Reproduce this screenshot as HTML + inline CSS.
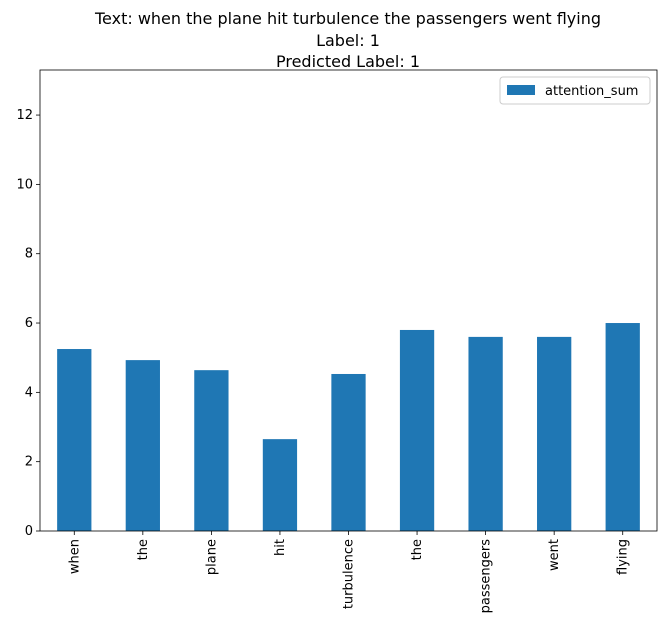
<!DOCTYPE html>
<html><head><meta charset="utf-8"><style>
body{margin:0;background:#fff;font-family:"Liberation Sans","DejaVu Sans",sans-serif;}
svg text{font-family:"DejaVu Sans","Liberation Sans",sans-serif;}
</style></head><body>
<svg id="chart" width="667" height="630" xmlns="http://www.w3.org/2000/svg">
<g font-size="16" text-anchor="middle" fill="#000">
<text x="348" y="24">Text: when the plane hit turbulence the passengers went flying</text>
<text x="348" y="46">Label: 1</text>
<text x="348" y="67">Predicted Label: 1</text>
</g>
<g id="plot"></g>
</svg>
<script>
const categories=["when","the","plane","hit","turbulence","the","passengers","went","flying"];
const values=[5.25,4.93,4.64,2.65,4.53,5.8,5.6,5.6,6.0];
const yTicks=[0,2,4,6,8,10,12];
const L=40,R=657,T=70,B=531,yMax=13.3;
const ns="http://www.w3.org/2000/svg";
const g=document.getElementById('plot');
const y=v=>B-(B-T)*v/yMax;
const step=(R-L)/categories.length;
const x=i=>L+step*(i+0.5);
function mk(tag,attrs){const e=document.createElementNS(ns,tag);for(const k in attrs)e.setAttribute(k,attrs[k]);g.appendChild(e);return e;}
values.forEach((v,i)=>{
 const r=mk('rect',{x:x(i)-step/4,y:y(v),width:step/2,height:B-y(v),fill:'#1f77b4'});
 
 
});
const frame=mk('rect',{x:L,y:T,width:R-L,height:B-T,fill:'none',stroke:'#000','stroke-width':0.8});


yTicks.forEach(t=>{
 const ln=mk('line',{x1:L-4,x2:L,y1:y(t),y2:y(t),stroke:'#000','stroke-width':0.8});
 
 
 const tx=mk('text',{x:L-7,y:y(t)+4,'text-anchor':'end','font-size':13});
 tx.textContent=t;
 
 
});
categories.forEach((c,i)=>{
 const ln=mk('line',{x1:x(i),x2:x(i),y1:B,y2:B+4,stroke:'#000','stroke-width':0.8});
 
 
 const tx=mk('text',{x:0,y:0,'text-anchor':'end','font-size':13,transform:`translate(${x(i)+4},${B+8}) rotate(-90)`});
 tx.textContent=c;
 
 
});
const lg=mk('rect',{x:500,y:77,width:150,height:27,fill:'#fff',stroke:'#ccc',rx:3});


const sw=mk('rect',{x:507,y:85,width:28,height:10,fill:'#1f77b4'});


const lt=mk('text',{x:545,y:95,'font-size':13});
lt.textContent='attention_sum';


</script>
</body></html>
